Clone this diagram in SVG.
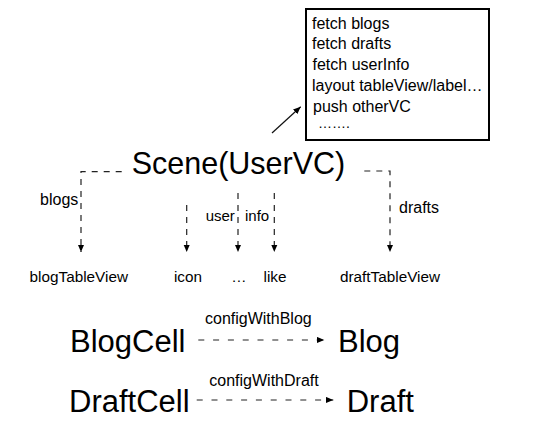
<svg xmlns="http://www.w3.org/2000/svg" width="553" height="435" viewBox="0 0 553 435">
<style>
  text { font-family: "Liberation Sans", Arial, Helvetica, sans-serif; fill: #000; }
  .big { font-size: 30.5px; }
  .cell { font-size: 31px; }
  .box { font-size: 16px; }
  .dots { font-size: 14px; }
  .lbl16 { font-size: 16px; }
  .lbl15 { font-size: 15px; }
  .leaf { font-size: 15.3px; text-anchor: middle; }
  .dash { fill: none; stroke: #222; stroke-width: 1.2; stroke-dasharray: 6 6; }
  .dash2 { fill: none; stroke: #222; stroke-width: 1.2; stroke-dasharray: 6 8.8; }
  .solid { fill: none; stroke: #111; stroke-width: 1.2; }
</style>
<defs>
  <marker id="ah" markerUnits="userSpaceOnUse" markerWidth="8" markerHeight="7" refX="7.5" refY="3.2" orient="auto">
    <path d="M0,0 L7.5,3.2 L0,6.4 z" fill="#000"/>
  </marker>
</defs>
<rect width="553" height="435" fill="#fff"/>

<g id="tasks">
  <rect x="306" y="9" width="183" height="131" fill="#fff" stroke="#000" stroke-width="2"/>
  <text class="box" x="312" y="28.5">fetch blogs</text>
  <text class="box" x="312" y="48.5">fetch drafts</text>
  <text class="box" x="312.5" y="70">fetch userInfo</text>
  <text class="box" x="312" y="90.5">layout tableView/label…</text>
  <text class="box" x="313" y="111.5">push otherVC</text>
  <text class="dots" x="318" y="128">…….</text>
</g>

<g id="scene">
  <text class="big" x="131.7" y="174">Scene(UserVC)</text>
</g>

<g id="blogTableView"><text class="leaf" x="78.8" y="281.7">blogTableView</text></g>
<g id="icon"><text class="leaf" x="188" y="281.7">icon</text></g>
<g id="more"><text class="leaf" x="238.8" y="281.7">…</text></g>
<g id="like"><text class="leaf" x="275" y="281.7">like</text></g>
<g id="draftTableView"><text class="leaf" x="390" y="281.7">draftTableView</text></g>

<g id="blogCell"><text class="cell" x="70" y="351.7">BlogCell</text></g>
<g id="blog"><text class="cell" x="338" y="351.7">Blog</text></g>
<g id="draftCell"><text class="cell" x="69" y="412.3">DraftCell</text></g>
<g id="draft"><text class="cell" x="346.7" y="412.3">Draft</text></g>

<g id="connectors">
  <path class="solid" d="M272,133 L300.7,106.7" marker-end="url(#ah)"/>
  <path class="dash" d="M121.7,171.7 H81 V252" marker-end="url(#ah)"/>
  <path class="dash" d="M186.7,205 V252" marker-end="url(#ah)"/>
  <path class="dash" d="M238,193 V252" marker-end="url(#ah)"/>
  <path class="dash" d="M274.3,193 V252" marker-end="url(#ah)"/>
  <path class="dash" d="M364.3,171 H390 V252" marker-end="url(#ah)"/>
  <path class="dash2" d="M198.3,340 H324.3" marker-end="url(#ah)"/>
  <path class="dash2" d="M196.7,400 H333.3" marker-end="url(#ah)"/>
  <text class="lbl16" x="78.3" y="205" text-anchor="end">blogs</text>
  <text class="lbl15" x="205.7" y="220.5">user</text>
  <text class="lbl15" x="245" y="220.5">info</text>
  <text class="lbl16" x="399" y="212.7">drafts</text>
  <text class="lbl16" x="205" y="324.3">configWithBlog</text>
  <text class="lbl16" x="209.3" y="385.5">configWithDraft</text>
</g>
</svg>
